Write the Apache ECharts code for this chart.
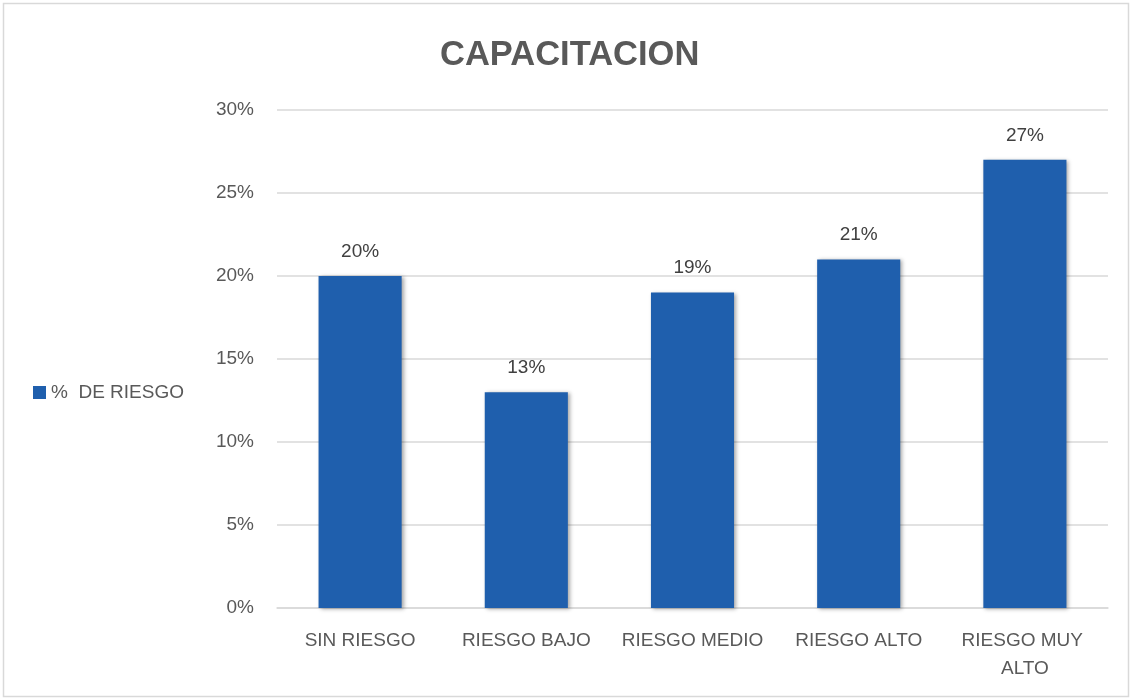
<!DOCTYPE html>
<html><head><meta charset="utf-8">
<script src="https://cdn.jsdelivr.net/npm/echarts@6/dist/echarts.min.js"></script>
<style>html,body{margin:0;padding:0;background:#fff}#c{width:1132px;height:700px}</style>
</head><body><div id="c"></div>
<script>
const categories = ["SIN RIESGO", "RIESGO BAJO", "RIESGO MEDIO", "RIESGO ALTO", "RIESGO MUY ALTO"];
const values = [20, 13, 19, 21, 27];
const seriesName = "%  DE RIESGO";
const title = "CAPACITACION";

const chart = echarts.init(document.getElementById('c'));
const font = "Liberation Sans";
chart.setOption({
  animation: false,
  backgroundColor: '#fff',
  textStyle: { fontFamily: font },
  title: {
    text: title, left: 435, top: 33,
    textStyle: { fontFamily: font, fontWeight: 'bold', fontSize: 34.5, color: '#595959' }
  },
  legend: {
    orient: 'vertical', left: 28, top: 378,
    itemWidth: 13, itemHeight: 13, itemGap: 6,
    icon: 'rect',
    textStyle: { fontSize: 19, color: '#595959', fontFamily: font },
    data: [seriesName]
  },
  grid: { left: 277, right: 24, top: 110, bottom: 92, containLabel: false },
  xAxis: {
    type: 'category', data: categories,
    axisLine: { lineStyle: { color: '#d9d9d9', width: 1.5 } },
    axisTick: { show: false },
    axisLabel: { color: '#595959', fontSize: 19, margin: 19, interval: 0, width: 160, overflow: 'break', lineHeight: 28 }
  },
  yAxis: {
    type: 'value', min: 0, max: 30, interval: 5,
    axisLine: { show: false }, axisTick: { show: false },
    splitLine: { lineStyle: { color: '#d9d9d9', width: 1.5 } },
    axisLabel: { color: '#595959', fontSize: 19, margin: 23, formatter: '{value}%' }
  },
  graphic: [{
    type: 'rect', silent: true, z: -1,
    shape: { x: 3.5, y: 3.5, width: 1125, height: 693 },
    style: { fill: 'none', stroke: '#d9d9d9', lineWidth: 1.5 }
  }],
  series: [{
    name: seriesName, type: 'bar', data: values, barWidth: '50%',
    itemStyle: { color: '#1f5fad', shadowColor: 'rgba(0,0,0,0.35)', shadowBlur: 4, shadowOffsetX: 2, shadowOffsetY: 1 },
    label: { show: true, position: 'top', distance: 15, formatter: '{c}%', color: '#404040', fontSize: 19 }
  }]
});
</script></body></html>
